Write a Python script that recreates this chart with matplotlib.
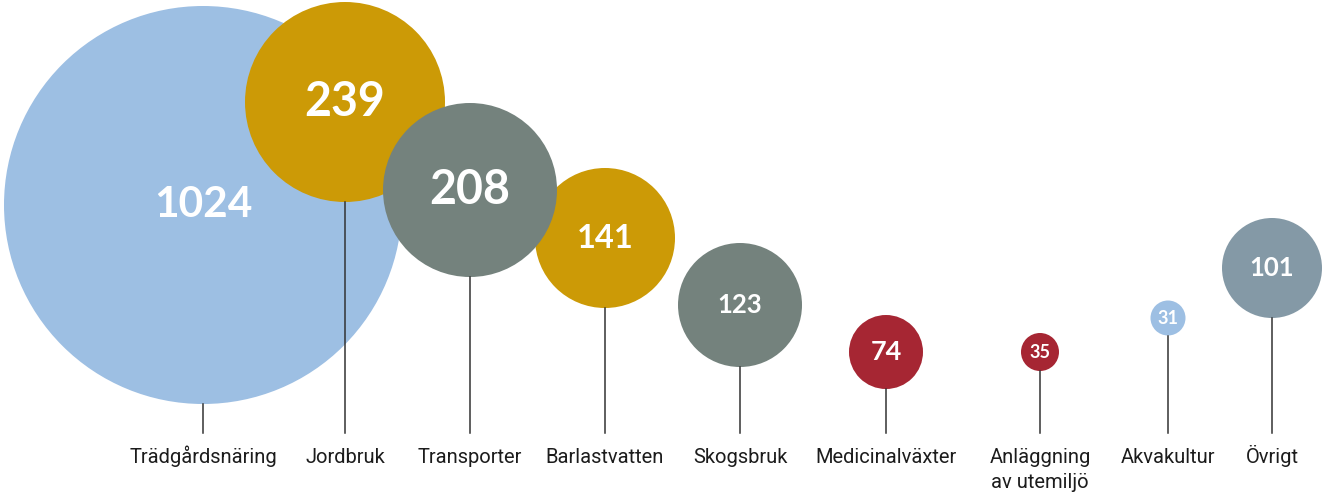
import matplotlib.pyplot as plt
from matplotlib.patches import Circle

# data
categories = ['Trädgårdsnäring', 'Jordbruk', 'Transporter', 'Barlastvatten', 'Skogsbruk',
              'Medicinalväxter', 'Anläggning\nav utemiljö', 'Akvakultur', 'Övrigt']
values = [1024, 239, 208, 141, 123, 74, 35, 31, 101]

# layout (pixels)
x_pos = [203, 345, 470, 605, 740, 886, 1040, 1168, 1272]
y_pos = [205, 102, 190, 238, 305, 352, 352, 318, 268]
radii = [199, 100, 87, 70, 62, 37, 19, 17.5, 50]
num_size = [30.5, 33.5, 33.5, 23.5, 18.5, 19.5, 13, 13, 18.5]
colors = ['#9dbfe3', '#cc9a06', '#74827d', '#cc9a06', '#74827d',
          '#a62633', '#a62633', '#9dbfe3', '#8499a6']
zorders = [1, 2, 3, 2, 2, 2, 2, 2, 2]

W, H = 1323, 494
fig = plt.figure(figsize=(W / 100, H / 100), dpi=100)
ax = fig.add_axes([0, 0, 1, 1])
ax.set_xlim(0, W)
ax.set_ylim(H, 0)
ax.set_aspect('equal')
ax.axis('off')

line_end = 433
for i, cat in enumerate(categories):
    ax.add_patch(Circle((x_pos[i], y_pos[i]), radii[i], color=colors[i],
                        zorder=zorders[i], lw=0))
    ax.plot([x_pos[i], x_pos[i]], [y_pos[i] + radii[i], line_end],
            color='#333333', lw=1.1, zorder=5)
    ax.text(x_pos[i], y_pos[i], str(values[i]), color='white', ha='center', va='center',
            fontsize=num_size[i], fontweight='bold', family=['Lato', 'DejaVu Sans'],
            zorder=6)
    # category label, one text per line so the baselines line up
    for j, part in enumerate(cat.split('\n')):
        ax.text(x_pos[i], 463 + 25 * j, part, ha='center', va='baseline', fontsize=14.5,
                color='#1c1c1c', family=['Roboto', 'DejaVu Sans'])

fig.savefig('out.png', dpi=100)
